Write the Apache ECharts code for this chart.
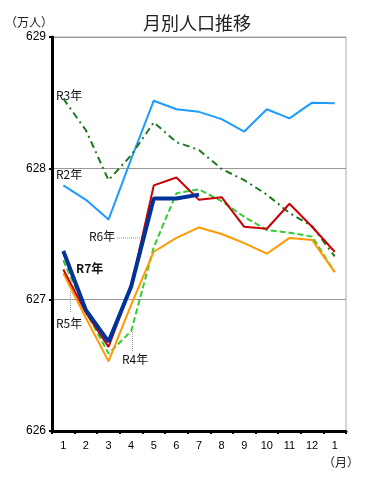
<!DOCTYPE html>
<html><head><meta charset="utf-8">
<script src="https://cdn.jsdelivr.net/npm/echarts@6/dist/echarts.min.js"></script>
<style>html,body{margin:0;padding:0;background:#fff}#c{width:366px;height:480px}</style>
</head><body><div id="c"></div>
<script>
const months = ['1','2','3','4','5','6','7','8','9','10','11','12','1'];
const r2 = [627.87,627.76,627.61,628.07,628.515,628.45,628.43,628.375,628.28,628.45,628.38,628.50,628.495];
const r3 = [628.53,628.29,627.91,628.10,628.35,628.20,628.14,627.995,627.91,627.80,627.66,627.56,627.33];
const r4 = [627.30,626.91,626.59,626.76,627.40,627.81,627.84,627.75,627.63,627.53,627.51,627.48,627.21];
const r5 = [627.20,626.86,626.53,626.96,627.365,627.47,627.55,627.50,627.43,627.35,627.47,627.455,627.21];
const r6 = [627.23,626.90,626.64,627.10,627.87,627.93,627.76,627.78,627.555,627.54,627.73,627.555,627.365];
const r7 = [627.37,626.92,626.68,627.10,627.77,627.77,627.80];
const yTicks = [626,627,628,629];

const chart = echarts.init(document.getElementById('c'), null, {renderer:'canvas'});
const numFont = 'Liberation Sans, Arial, sans-serif';
const jpFont = '"Noto Sans CJK JP", sans-serif';
function line(name, data, color, width, type, z){
  return {name, type:'line', data, symbol:'none', z:z||2,
    lineStyle:{color, width, type: type||'solid'}, emphasis:{disabled:true}};
}
chart.setOption({
  animation:false,
  backgroundColor:'#fff',
  title:{text:'月別人口推移', left:192, top:9, textAlign:'center',
    textStyle:{fontFamily:jpFont, fontSize:18, fontWeight:'normal', color:'#222'}},
  grid:{left:52, right:20, top:37, bottom:49, show:true, borderColor:'#aaa', borderWidth:1},
  xAxis:{type:'category', data:months, boundaryGap:true,
    axisLine:{lineStyle:{color:'#000', width:3}},
    axisTick:{show:true, length:3, lineStyle:{color:'#000', width:2}},
    axisLabel:{fontFamily:numFont, fontSize:11, color:'#000', margin:9}},
  yAxis:{type:'value', min:626, max:629, interval:1,
    axisLine:{show:true, lineStyle:{color:'#000', width:3}},
    axisTick:{show:true, length:3, lineStyle:{color:'#000', width:2}},
    axisLabel:{fontFamily:numFont, fontSize:12, color:'#000', margin:6,
      formatter:v=>yTicks.includes(v)?String(v):''},
    splitLine:{show:true, lineStyle:{color:'#999', width:1}}},
  series:[
    line('R2年', r2, '#1e9bff', 2),
    line('R3年', r3, '#1a7a1a', 2, [7,4,2,4]),
    line('R4年', r4, '#33cc33', 2, [6,3]),
    line('R5年', r5, '#ff9900', 2),
    line('R6年', r6, '#cc0000', 2),
    line('R7年', r7, '#003399', 4, 'solid', 5)
  ],
  graphic:[
    {type:'text', left:5, top:16, style:{text:'（万人）', font:'12px '+jpFont, fill:'#222'}},
    {type:'text', left:323, top:456, style:{text:'（月）', font:'12px '+jpFont, fill:'#222'}},
    {type:'text', left:56, top:89, style:{text:'R3年', font:'12px '+jpFont, fill:'#111'}},
    {type:'text', left:56, top:168, style:{text:'R2年', font:'12px '+jpFont, fill:'#111'}},
    {type:'text', left:89, top:230, style:{text:'R6年', font:'12px '+jpFont, fill:'#111'}},
    {type:'line', shape:{x1:117, y1:238, x2:140, y2:238}, style:{stroke:'#999', lineWidth:1, lineDash:[1,1]}},
    {type:'text', left:76, top:262, style:{text:'R7年', font:'bold 12px '+jpFont, fill:'#111'}},
    {type:'text', left:56, top:317, style:{text:'R5年', font:'12px '+jpFont, fill:'#111'}},
    {type:'line', shape:{x1:70.5, y1:291, x2:70.5, y2:312}, style:{stroke:'#999', lineWidth:1, lineDash:[1,1]}},
    {type:'text', left:122, top:353, style:{text:'R4年', font:'12px '+jpFont, fill:'#111'}},
    {type:'line', shape:{x1:132.5, y1:332, x2:132.5, y2:351}, style:{stroke:'#999', lineWidth:1, lineDash:[1,1]}}
  ]
});
</script></body></html>
